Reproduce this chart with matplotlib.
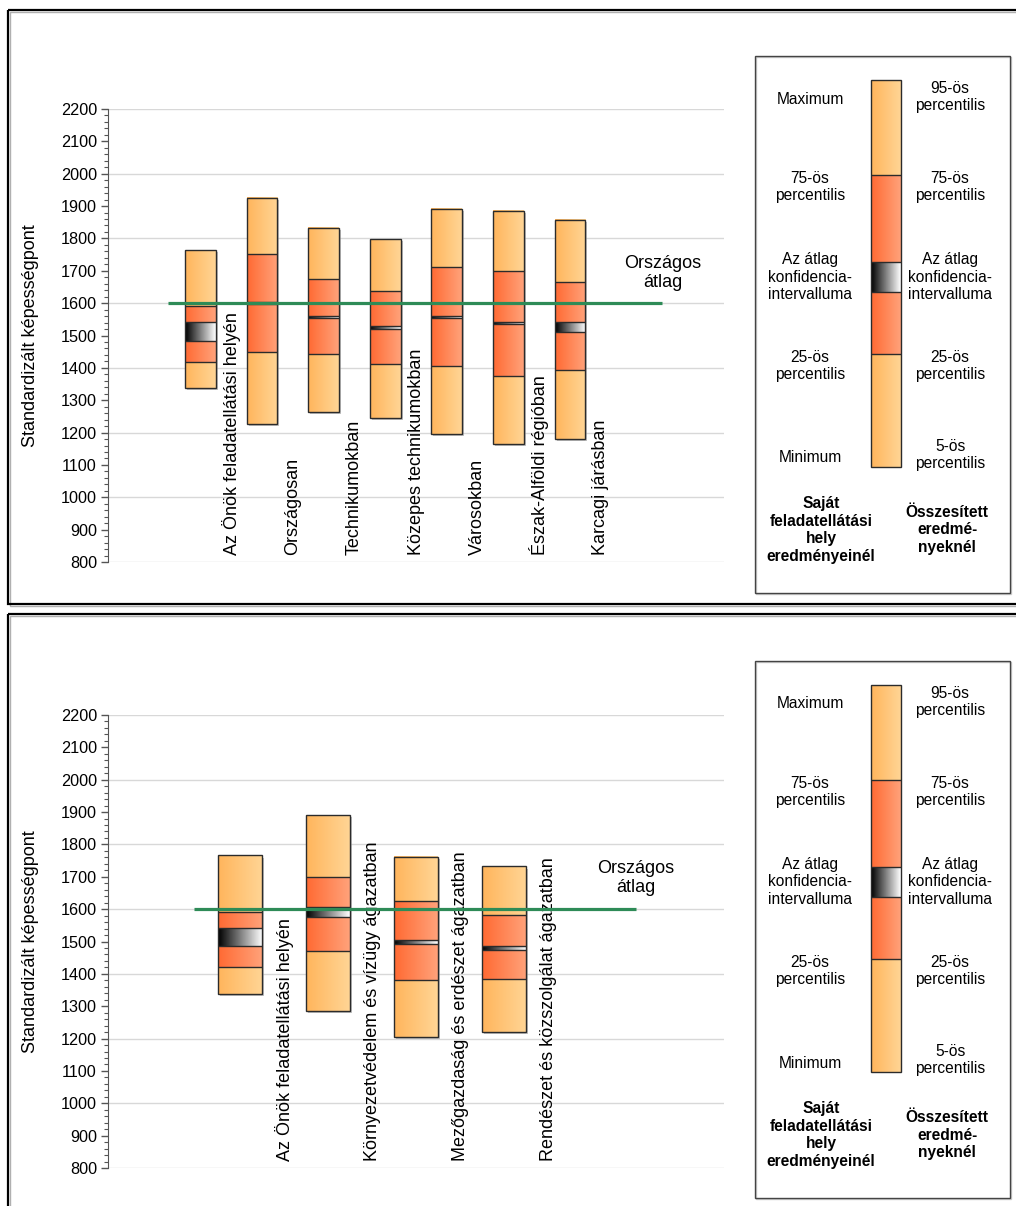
import numpy as np
import matplotlib
matplotlib.use("Agg")
import matplotlib.pyplot as plt
from matplotlib.patches import Rectangle
from matplotlib.colors import LinearSegmentedColormap
from matplotlib.ticker import MultipleLocator
import matplotlib.patheffects as pe

plt.rcParams['font.family'] = ['Liberation Sans', 'DejaVu Sans']

# ---------------- data ----------------
top_categories = ["Az Önök feladatellátási helyén", "Országosan", "Technikumokban",
                  "Közepes technikumokban", "Városokban", "Észak-Alföldi régióban",
                  "Karcagi járásban"]
top_p5 = [1337, 1227, 1265, 1244, 1195, 1165, 1179]
top_p25 = [1417, 1450, 1442, 1413, 1406, 1374, 1392]
top_ci_low = [1484, 1596, 1555, 1521, 1555, 1536, 1510]
top_ci_high = [1543, 1604, 1559, 1529, 1559, 1542, 1543]
top_p75 = [1591, 1751, 1674, 1639, 1711, 1698, 1664]
top_p95 = [1764, 1925, 1832, 1798, 1891, 1885, 1856]

bot_categories = ["Az Önök feladatellátási helyén", "Környezetvédelem és vízügy ágazatban",
                  "Mezőgazdaság és erdészet ágazatban", "Rendészet és közszolgálat ágazatban"]
bot_p5 = [1338, 1284, 1205, 1220]
bot_p25 = [1420, 1471, 1380, 1383]
bot_ci_low = [1485, 1575, 1491, 1473]
bot_ci_high = [1542, 1607, 1506, 1487]
bot_p75 = [1592, 1700, 1624, 1582]
bot_p95 = [1766, 1891, 1762, 1732]

national_avg = 1600
y_ticks = list(range(800, 2201, 100))

# ---------------- styles ----------------
cm_light = LinearSegmentedColormap.from_list("light", ["#FFB55C", "#FFD595"])
cm_red = LinearSegmentedColormap.from_list("red", ["#FF6A33", "#FFA27A"])
cm_ci = LinearSegmentedColormap.from_list("ci", ["#000000", "#FFFFFF"])
grad = np.linspace(0, 1, 64).reshape(1, -1)
EDGE = "#2b2b2b"
GREEN = "#2E8B57"

W, H = 1016, 1206
fig = plt.figure(figsize=(W / 100, H / 100), dpi=100)

bg = fig.add_axes([0, 0, 1, 1], zorder=0)
bg.set_xlim(0, W)
bg.set_ylim(H, 0)
bg.axis('off')


def seg(ax, x0, x1, lo, hi, cmap, z=2):
    ax.imshow(grad, cmap=cmap, extent=(x0, x1, lo, hi), aspect='auto',
              interpolation='bilinear', zorder=z, origin='lower')


def draw_panel(ax_rect, cats, p5, p25, cil, cih, p75, p95, xlim, avg_label_y):
    ax = fig.add_axes(ax_rect, zorder=1)
    ax.patch.set_alpha(0)
    n = len(cats)
    hw = 0.25
    for i in range(n):
        x0, x1 = i - hw, i + hw
        sh = Rectangle((x0, p5[i]), 2 * hw, p95[i] - p5[i], facecolor='white',
                       edgecolor='none', zorder=1.5,
                       path_effects=[pe.SimplePatchShadow(offset=(1.5, -1.5),
                                                          shadow_rgbFace='#999999', alpha=0.6),
                                     pe.Normal()])
        ax.add_patch(sh)
        seg(ax, x0, x1, p5[i], p25[i], cm_light)
        seg(ax, x0, x1, p25[i], cil[i], cm_red)
        seg(ax, x0, x1, cil[i], cih[i], cm_ci)
        seg(ax, x0, x1, cih[i], p75[i], cm_red)
        seg(ax, x0, x1, p75[i], p95[i], cm_light)
        ax.add_patch(Rectangle((x0, p5[i]), 2 * hw, p95[i] - p5[i], fill=False,
                               edgecolor=EDGE, lw=1.0, zorder=3))
        ax.hlines([p25[i], cil[i], cih[i], p75[i]], x0, x1, colors=EDGE, lw=1.0, zorder=3)
        ax.text(i + 0.5, 0.016, cats[i], rotation=90, ha='center', va='bottom',
                fontsize=13, transform=ax.get_xaxis_transform(), zorder=4)
    ax.hlines(national_avg, -0.52, n + 0.5, colors=GREEN, lw=2.3, zorder=5)
    ax.text(n + 0.5, avg_label_y, "Országos\nátlag", ha='center', va='center',
            fontsize=13, linespacing=1.15, zorder=4)
    ax.set_xlim(*xlim)
    ax.set_ylim(800, 2200)
    ax.set_yticks(y_ticks)
    ax.set_yticklabels([str(t) for t in y_ticks])
    ax.yaxis.set_minor_locator(MultipleLocator(20))
    ax.set_xticks([])
    for y in range(800, 2201, 200):
        ax.axhline(y, color='#d8d8d8', lw=1.0, zorder=0.5)
    for s in ['top', 'right', 'bottom']:
        ax.spines[s].set_visible(False)
    ax.spines['left'].set_color('#555555')
    ax.tick_params(axis='y', which='major', direction='out', length=5, width=1,
                   color='#555555', labelsize=11.7, pad=3)
    ax.tick_params(axis='y', which='minor', direction='out', length=3, width=0.8,
                   color='#555555')
    ax.set_ylabel("Standardizált képességpont", fontsize=13)
    ax.yaxis.set_label_coords(-0.112, 0.5)
    return ax


def frac_rect(x0, y0, x1, y1):
    return [x0 / W, 1 - y1 / H, (x1 - x0) / W, (y1 - y0) / H]


draw_panel(frac_rect(108, 109, 724, 562), top_categories, top_p5, top_p25,
           top_ci_low, top_ci_high, top_p75, top_p95, (-1.5, 8.5), 1693)
draw_panel(frac_rect(108, 715, 724, 1168), bot_categories, bot_p5, bot_p25,
           bot_ci_low, bot_ci_high, bot_p75, bot_p95, (-1.5, 5.5), 1696)

# panel frames
for (y0, y1) in [(10, 604), (614, 1212)]:
    bg.add_patch(Rectangle((9.5, y0 + 1.5), 1020, y1 - y0, fill=False, edgecolor='#b0b0b0',
                           lw=1.0, zorder=0.5))
    bg.add_patch(Rectangle((8, y0), 1020, y1 - y0, fill=False, edgecolor='black',
                           lw=1.6, zorder=0.6))


def draw_legend(dy):
    bg.add_patch(Rectangle((756, 57 + dy), 255, 537, fill=False, edgecolor='#cccccc',
                           lw=1.0, zorder=0.5))
    bg.add_patch(Rectangle((755, 56 + dy), 255, 537, fill=False, edgecolor='#444444',
                           lw=1.0, zorder=0.6))
    xb0, xb1 = 871, 901
    b = [80, 175, 262, 292, 354, 467]
    cmaps = [cm_light, cm_red, cm_ci, cm_red, cm_light]
    for k in range(5):
        bg.imshow(grad, cmap=cmaps[k], extent=(xb0, xb1, b[k + 1] + dy, b[k] + dy),
                  aspect='auto', interpolation='bilinear', zorder=1)
    bg.add_patch(Rectangle((xb0, b[0] + dy), xb1 - xb0, b[-1] - b[0], fill=False,
                           edgecolor=EDGE, lw=1.0, zorder=2))
    bg.hlines([v + dy for v in b[1:-1]], xb0, xb1, colors=EDGE, lw=1.0, zorder=2)
    fs = 11.2
    ls = 1.2
    left = [("Maximum", 99), ("75-ös\npercentilis", 187),
            ("Az átlag\nkonfidencia-\nintervalluma", 277),
            ("25-ös\npercentilis", 366), ("Minimum", 458)]
    right = [("95-ös\npercentilis", 97), ("75-ös\npercentilis", 187),
             ("Az átlag\nkonfidencia-\nintervalluma", 277),
             ("25-ös\npercentilis", 366), ("5-ös\npercentilis", 455)]
    for t, y in left:
        bg.text(810, y + dy, t, ha='center', va='center', fontsize=fs, linespacing=ls,
                zorder=3)
    for t, y in right:
        bg.text(950, y + dy, t, ha='center', va='center', fontsize=fs, linespacing=ls,
                zorder=3)
    bg.text(821, 530 + dy, "Saját\nfeladatellátási\nhely\neredményeinél", ha='center',
            va='center', fontsize=fs, fontweight='bold', linespacing=ls, zorder=3)
    bg.text(947, 530 + dy, "Összesített\neredmé-\nnyeknél", ha='center', va='center',
            fontsize=fs, fontweight='bold', linespacing=ls, zorder=3)


draw_legend(0)
draw_legend(605)
bg.set_xlim(0, W)
bg.set_ylim(H, 0)

fig.savefig("out.png", dpi=100)
